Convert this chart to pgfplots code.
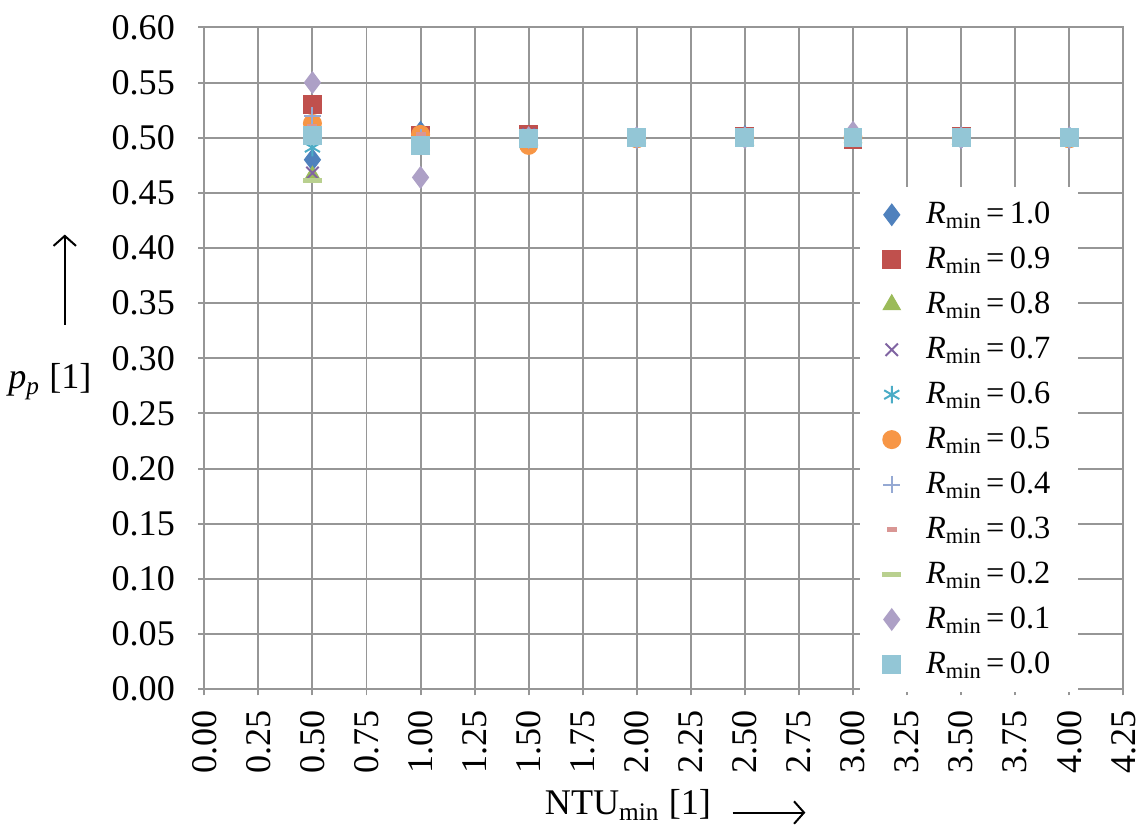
\documentclass[border=0pt]{standalone}
\usepackage{fontspec}
\setmainfont{Liberation Serif}
\usepackage{pgfplots}
\pgfplotsset{compat=1.18}
\usetikzlibrary{arrows.meta}
\definecolor{c1}{HTML}{4F81BD}
\definecolor{c2}{HTML}{C0504D}
\definecolor{c3}{HTML}{9BBB59}
\definecolor{c4}{HTML}{8064A2}
\definecolor{c5}{HTML}{4BACC6}
\definecolor{c6}{HTML}{F79646}
\definecolor{c7}{HTML}{95A9D3}
\definecolor{c8}{HTML}{D99694}
\definecolor{c9}{HTML}{B9D08F}
\definecolor{c10}{HTML}{ADA0C6}
\definecolor{c11}{HTML}{93C6D6}
\definecolor{gridc}{HTML}{969696}
\newcommand{\Rm}[1]{\textit{R}\raisebox{-0.35ex}{\fontsize{9}{9}\selectfont min}\,=\,#1}
\begin{document}
\begin{tikzpicture}[font=\fontsize{14.5}{16}\selectfont]
\begin{axis}[
  scale only axis, width=368.8pt, height=265.6pt,
  xmin=0, xmax=4.25, ymin=0, ymax=0.6,
  xtick={0,0.25,0.5,0.75,1,1.25,1.5,1.75,2,2.25,2.5,2.75,3,3.25,3.5,3.75,4,4.25},
  ytick={0,0.05,0.1,0.15,0.2,0.25,0.3,0.35,0.4,0.45,0.5,0.55,0.6},
  grid=major,
  major grid style={gridc, line width=0.8pt},
  axis line style={gridc, line width=0.8pt},
  tick style={gridc, line width=0.8pt},
  tick align=outside, major tick length=2.5pt,
  xtick pos=bottom, ytick pos=left,
  /pgf/number format/assume math mode=true,
  /pgf/number format/.cd, fixed, fixed zerofill, precision=2, /pgfplots/.cd,
  xticklabel style={rotate=90, anchor=east, font=\fontsize{14.5}{16}\selectfont},
  xticklabel shift=2.5pt,
  yticklabel style={font=\fontsize{14.5}{16}\selectfont, xshift=-5.8pt},
  legend style={at={(rel axis cs:0.951,-0.005)}, anchor=south east, fill=white, draw=none,
    font=\fontsize{13}{14}\selectfont, inner xsep=9pt, inner ysep=4pt,
    row sep=3.9pt},
  legend cell align=left,
  legend style={/tikz/every odd column/.append style={column sep=8pt}},
  clip=false,
]
\addplot[only marks, mark=diamond*, mark size=4.3pt, mark options={fill=c1, draw=c1}] coordinates {
(0.5,0.480) (1,0.505) (1.5,0.501) (2,0.500) (2.5,0.501) (3,0.500) (3.5,0.500) (4,0.500)};
\addlegendentry{\Rm{1.0}}
\addplot[only marks, mark=square*, mark size=3.6pt, mark options={fill=c2, draw=c2}] coordinates {
(0.5,0.530) (1,0.502) (1.5,0.503) (2,0.500) (2.5,0.501) (3,0.498) (3.5,0.501) (4,0.500)};
\addlegendentry{\Rm{0.9}}
\addplot[only marks, mark=triangle*, mark size=4pt, mark options={fill=c3, draw=c3}] coordinates {
(0.5,0.465) (1,0.490) (1.5,0.499) (2,0.500) (2.5,0.498) (3,0.500) (3.5,0.499) (4,0.500)};
\addlegendentry{\Rm{0.8}}
\addplot[only marks, mark=x, mark size=3.5pt, mark options={draw=c4, line width=0.8pt}] coordinates {
(0.5,0.468) (1,0.500) (1.5,0.503) (2,0.500) (2.5,0.501) (3,0.500) (3.5,0.500) (4,0.500)};
\addlegendentry{\Rm{0.7}}
\addplot[only marks, mark=asterisk, mark size=3.5pt, mark options={draw=c5, line width=0.8pt}] coordinates {
(0.5,0.491) (1,0.498) (1.5,0.500) (2,0.500) (2.5,0.500) (3,0.500) (3.5,0.500) (4,0.500)};
\addlegendentry{\Rm{0.6}}
\addplot[only marks, mark=*, mark size=3.6pt, mark options={fill=c6, draw=c6}] coordinates {
(0.5,0.513) (1,0.503) (1.5,0.493) (2,0.499) (2.5,0.500) (3,0.500) (3.5,0.500) (4,0.499)};
\addlegendentry{\Rm{0.5}}
\addplot[only marks, mark=+, mark size=3.5pt, mark options={draw=c7, line width=0.8pt}] coordinates {
(0.5,0.520) (1,0.500) (1.5,0.500) (2,0.500) (2.5,0.500) (3,0.500) (3.5,0.500) (4,0.500)};
\addlegendentry{\Rm{0.4}}
\addplot[only marks, mark=-, mark size=2pt, mark options={draw=c8, line width=2pt}] coordinates {
(0.5,0.510) (1,0.503) (1.5,0.500) (2,0.500) (2.5,0.500) (3,0.499) (3.5,0.500) (4,0.500)};
\addlegendentry{\Rm{0.3}}
\addplot[only marks, mark=-, mark size=3.8pt, mark options={draw=c9, line width=2pt}] coordinates {
(0.5,0.461) (1,0.490) (1.5,0.500) (2,0.500) (2.5,0.498) (3,0.500) (3.5,0.499) (4,0.500)};
\addlegendentry{\Rm{0.2}}
\addplot[only marks, mark=diamond*, mark size=4.3pt, mark options={fill=c10, draw=c10}] coordinates {
(0.5,0.550) (1,0.464) (1.5,0.500) (2,0.500) (2.5,0.500) (3,0.505) (3.5,0.500) (4,0.500)};
\addlegendentry{\Rm{0.1}}
\addplot[only marks, mark=square*, mark size=3.6pt, mark options={fill=c11, draw=c11}] coordinates {
(0.5,0.502) (1,0.493) (1.5,0.499) (2,0.500) (2.5,0.500) (3,0.500) (3.5,0.500) (4,0.500)};
\addlegendentry{\Rm{0.0}}
\node at ([xshift=-62pt]rel axis cs:0,0.465) {\textit{p}\textsubscript{\textit{p}} [1]};
\draw[-{Straight Barb[length=4pt,width=9pt]}, line width=0.8pt] ([xshift=-56pt]rel axis cs:0,0.551) -- ([xshift=-56pt]rel axis cs:0,0.687);
\node at ([yshift=-46.5pt]rel axis cs:0.461,0) {NTU\textsubscript{min} [1]};
\draw[-{Straight Barb[length=4pt,width=9pt]}, line width=0.8pt] ([yshift=-49.5pt]rel axis cs:0.575,0) -- ([yshift=-49.5pt]rel axis cs:0.654,0);
\end{axis}
\pgfresetboundingbox
\path ([xshift=-82pt,yshift=-54.4pt]current axis.south west) rectangle ([xshift=7.5pt,yshift=11pt]current axis.north east);
\end{tikzpicture}
\end{document}
